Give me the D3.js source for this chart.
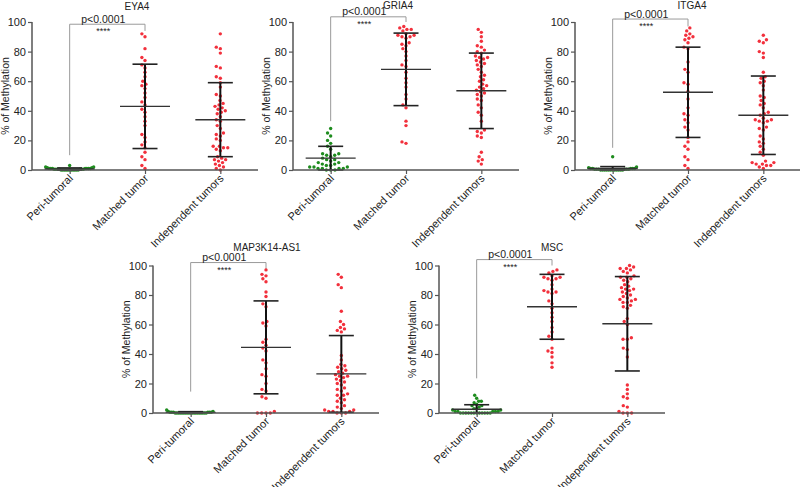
<!DOCTYPE html>
<html><head><meta charset="utf-8">
<script src="https://cdn.jsdelivr.net/npm/d3@7"></script>
<style>
body{margin:0;background:#fff}
svg{display:block}
text{font-family:"Liberation Sans",Arial,sans-serif;fill:#222}
</style>
</head><body>
<svg id="chart" width="800" height="487"></svg>
<script>
// ---------- data ----------
const categories = ["Peri-tumoral", "Matched tumor", "Independent tumors"];
const genes = ["EYA4", "GRIA4", "ITGA4", "MAP3K14-AS1", "MSC"];
const yTicks = [0, 20, 40, 60, 80, 100];
const pLabel = "p<0.0001";
const starLabel = "****";
const yTitle = "% of Methylation";

// EYA4
const eya4Peri = [3,2,2,1.5,1.5,1,1,1,1,1,1,1,0.5,0.5,0.5,0.5,0.5,0.5,0.5,0,0,0,0,0,0,0,0,0,0,0];
const eya4Matched = [92,90,82,76,74,71,69,66,63,60,58,57,55,52,49,46,44,41,39,36,33,30,24,22,19,17,15,12,9,7,3,1];
const eya4Indep = [92,83,82,79,70,69,63,62,59,56,51,50,47,45,44,43,42,41,40,39,38,36,34,33,30,28,25,24,23,21,20,16,16,15,15,14,13,9,8,7,7,6,5,4,3,2,1,0];
const eya4Mean = [0.7, 43, 34];
const eya4SD = [0.7, 28.5, 25];
const eya4Bracket = [98.5, 10, 94];   // top, left leg end, right leg end

// GRIA4
const gria4Peri = [28,25,23,20,18,16,14,11,11,10,10,9,8,7,7,6,5,5,4,4,3,3,2,2,2,1,1,1,1,0,0,0];
const gria4Matched = [97,96,95,95,94,92,91,91,90,90,89,86,85,84,82,80,77,74,71,70,66,62,59,56,51,48,44,42,33,30,19,18];
const gria4Indep = [95,93,90,87,84,83,81,80,79,77,76,76,75,74,73,72,71,70,68,66,64,63,61,60,58,57,56,55,54,53,52,51,50,48,47,44,42,39,37,33,27,26,25,23,22,12,9,7,6,4];
const gria4Mean = [8, 68, 53.5];
const gria4SD = [8, 24.5, 25.5];
const gria4Bracket = [103.5, 33, 100];

// ITGA4
const itga4Peri = [9,2,1.5,1,1,1,1,1,0.5,0.5,0.5,0.5,0.5,0.5,0,0,0,0,0,0,0,0,0,0,0,0];
const itga4Matched = [96,94,92,91,90,89,88,86,83,82,73,68,66,59,58,53,48,42,38,37,34,32,29,27,22,19,16,14,9,7,3,1];
const itga4Indep = [91,88,87,86,80,79,76,66,63,62,60,59,57,54,50,49,47,45,44,42,39,38,37,35,34,34,33,33,32,29,28,27,23,21,19,18,16,14,12,10,6,5,5,4,4,3,3,2,1];
const itga4Mean = [1, 52.5, 37];
const itga4SD = [1.3, 30.5, 26.5];
const itga4Bracket = [102, 15, 97];

// MAP3K14-AS1
const map3k14Peri = [2,1,1,0.5,0.5,0.5,0.5,0.5,0.5,0,0,0,0,0,0,0,0,0,0,0,0,0,0,0,0,0,0,0];
const map3k14Matched = [97,94,93,91,89,82,79,74,72,62,61,59,50,48,46,44,42,36,34,30,26,25,20,16,15,11,10,1,0,0,0,0];
const map3k14Indep = [94,92,87,85,69,62,60,58,57,56,55,39,36,33,32,31,30,29,28,27,26,25,25,24,23,22,21,20,19,17,16,15,13,12,12,10,9,8,7,5,4,3,2,2,1,1,1,0,0,0];
const map3k14Mean = [0.4, 44.5, 26.5];
const map3k14SD = [0.5, 31.5, 26];
const map3k14Bracket = [102, 14.5, 97.5];

// MSC
const mscPeri = [12,10,8,8,7,6,5,5,4,3,3,2,2,1,1,1,1,1,0,0,0,0,0,0,0,0,0,0,0,0];
const mscMatched = [97,96,95,93,92,92,91,91,90,87,84,83,82,82,81,76,74,71,68,65,62,58,55,52,50,44,42,41,38,34,31];
const mscIndep = [100,99,98,98,97,96,95,93,92,92,91,90,89,87,86,85,84,84,83,82,81,80,79,78,77,77,76,75,75,73,72,71,64,62,60,51,50,50,44,43,38,19,16,13,11,10,5,4,1,0,0,0];
const mscMean = [2.5, 72, 60.5];
const mscSD = [3.1, 22, 32];
const mscBracket = [104, 23.5, 100];

// ---------- layout (positions only) ----------
const panels = [
  {gene: genes[0], groups: [eya4Peri, eya4Matched, eya4Indep], mean: eya4Mean, sd: eya4SD, br: eya4Bracket, x0: 32, top: 22, bottom: 170, tx: 137, ty: 10},
  {gene: genes[1], groups: [gria4Peri, gria4Matched, gria4Indep], mean: gria4Mean, sd: gria4SD, br: gria4Bracket, x0: 293, top: 22, bottom: 170, tx: 398, ty: 9},
  {gene: genes[2], groups: [itga4Peri, itga4Matched, itga4Indep], mean: itga4Mean, sd: itga4SD, br: itga4Bracket, x0: 575, top: 22, bottom: 170, tx: 692, ty: 9},
  {gene: genes[3], groups: [map3k14Peri, map3k14Matched, map3k14Indep], mean: map3k14Mean, sd: map3k14SD, br: map3k14Bracket, x0: 153, top: 265.5, bottom: 413, tx: 267, ty: 251},
  {gene: genes[4], groups: [mscPeri, mscMatched, mscIndep], mean: mscMean, sd: mscSD, br: mscBracket, x0: 439, top: 265.5, bottom: 413, tx: 552, ty: 251}
];
const axisW = 226;
const groupColors = ["#1e8c1e", "#f2303c", "#f2303c"];
const dotR = 1.7, dotD = 4.3;
const maxHalf = [24, 22, 22];
const fontStack = '"Liberation Sans",Arial,sans-serif';

// beeswarm layout in pixel space
function swarm(vals, y) {
  const pts = vals.map(v => ({v, y: y(v), x: 0})).sort((a, b) => b.y - a.y);
  const placed = [];
  for (const p of pts) {
    const near = placed.filter(q => Math.abs(q.y - p.y) < dotD);
    let cands = [0];
    for (const q of near) {
      const dx = Math.sqrt(dotD * dotD - (q.y - p.y) ** 2);
      cands.push(q.x + dx, q.x - dx);
    }
    cands.sort((a, b) => Math.abs(a) - Math.abs(b) || a - b);
    for (const c of cands) {
      if (near.every(q => (q.x - c) ** 2 + (q.y - p.y) ** 2 >= dotD * dotD - 0.01)) { p.x = c; break; }
    }
    placed.push(p);
  }
  return placed;
}

const svg = d3.select("#chart");
const axisColor = "#555";

panels.forEach(P => {
  const g = svg.append("g");
  const y = d3.scaleLinear().domain([0, 100]).range([P.bottom, P.top]);
  const x = d3.scalePoint().domain(categories).range([P.x0, P.x0 + axisW]).padding(0.5);

  // bracket
  const xl = x(categories[0]), xr = x(categories[1]);
  const by = y(P.br[0]);
  g.append("path")
    .attr("d", `M${xl},${y(P.br[1])}V${by}H${xr}V${y(P.br[2])}`)
    .attr("fill", "none").attr("stroke", "#9a9a9a").attr("stroke-width", 1);
  g.append("text").attr("x", (xl + xr) / 2 - 4).attr("y", by - 1.5)
    .attr("text-anchor", "middle").attr("font-size", 10.5).text(pLabel);
  g.append("text").attr("x", (xl + xr) / 2 - 4).attr("y", by + 10)
    .attr("text-anchor", "middle").attr("font-size", 9).text(starLabel);

  // dots
  P.groups.forEach((vals, i) => {
    let pts = swarm(vals, y);
    const m = d3.max(pts, d => Math.abs(d.x));
    const k = m > maxHalf[i] ? maxHalf[i] / m : 1;
    g.append("g").selectAll("circle").data(pts).join("circle")
      .attr("cx", d => x(categories[i]) + d.x * k)
      .attr("cy", d => d.y)
      .attr("r", dotR)
      .attr("fill", groupColors[i]);
  });

  // mean & SD
  categories.forEach((c, i) => {
    const cx = x(c);
    const hi = y(Math.min(100, P.mean[i] + P.sd[i]));
    const lo = y(Math.max(0, P.mean[i] - P.sd[i]));
    g.append("line").attr("x1", cx).attr("x2", cx).attr("y1", hi).attr("y2", lo)
      .attr("stroke", "#111").attr("stroke-width", 2);
    [hi, lo].forEach(yy => g.append("line").attr("x1", cx - 12.5).attr("x2", cx + 12.5)
      .attr("y1", yy).attr("y2", yy).attr("stroke", "#222").attr("stroke-width", 1.6));
    g.append("line").attr("x1", cx - 25).attr("x2", cx + 25)
      .attr("y1", y(P.mean[i])).attr("y2", y(P.mean[i]))
      .attr("stroke", "#333").attr("stroke-width", 1.4);
  });

  // axes
  const ya = g.append("g").attr("transform", `translate(${P.x0},0)`)
    .call(d3.axisLeft(y).tickValues(yTicks).tickSize(4).tickPadding(2));
  const xa = g.append("g").attr("transform", `translate(0,${P.bottom})`)
    .call(d3.axisBottom(x).tickSize(4).tickFormat(""));
  [ya, xa].forEach(a => {
    a.select(".domain").attr("stroke", axisColor).attr("stroke-width", 1.5);
    a.selectAll(".tick line").attr("stroke", axisColor).attr("stroke-width", 1.2);
  });
  xa.select(".domain").attr("d", `M${P.x0},0H${P.x0 + axisW}`);
  ya.select(".domain").attr("d", `M0,${P.top}V${P.bottom}`);
  ya.selectAll(".tick text").attr("font-size", 11).attr("fill", "#222")
    .attr("font-family", fontStack);

  // category labels
  categories.forEach(c => {
    g.append("text")
      .attr("transform", `translate(${x(c) + 4},${P.bottom + 9}) rotate(-45)`)
      .attr("text-anchor", "end").attr("font-size", 11).text(c);
  });

  // y title
  g.append("text")
    .attr("transform", `translate(${P.x0 - 23},${(P.top + P.bottom) / 2}) rotate(-90)`)
    .attr("text-anchor", "middle").attr("font-size", 10.5).text(yTitle);

  // panel title
  g.append("text").attr("x", P.tx).attr("y", P.ty)
    .attr("text-anchor", "middle").attr("font-size", 10).text(P.gene);
});
</script>
</body></html>
